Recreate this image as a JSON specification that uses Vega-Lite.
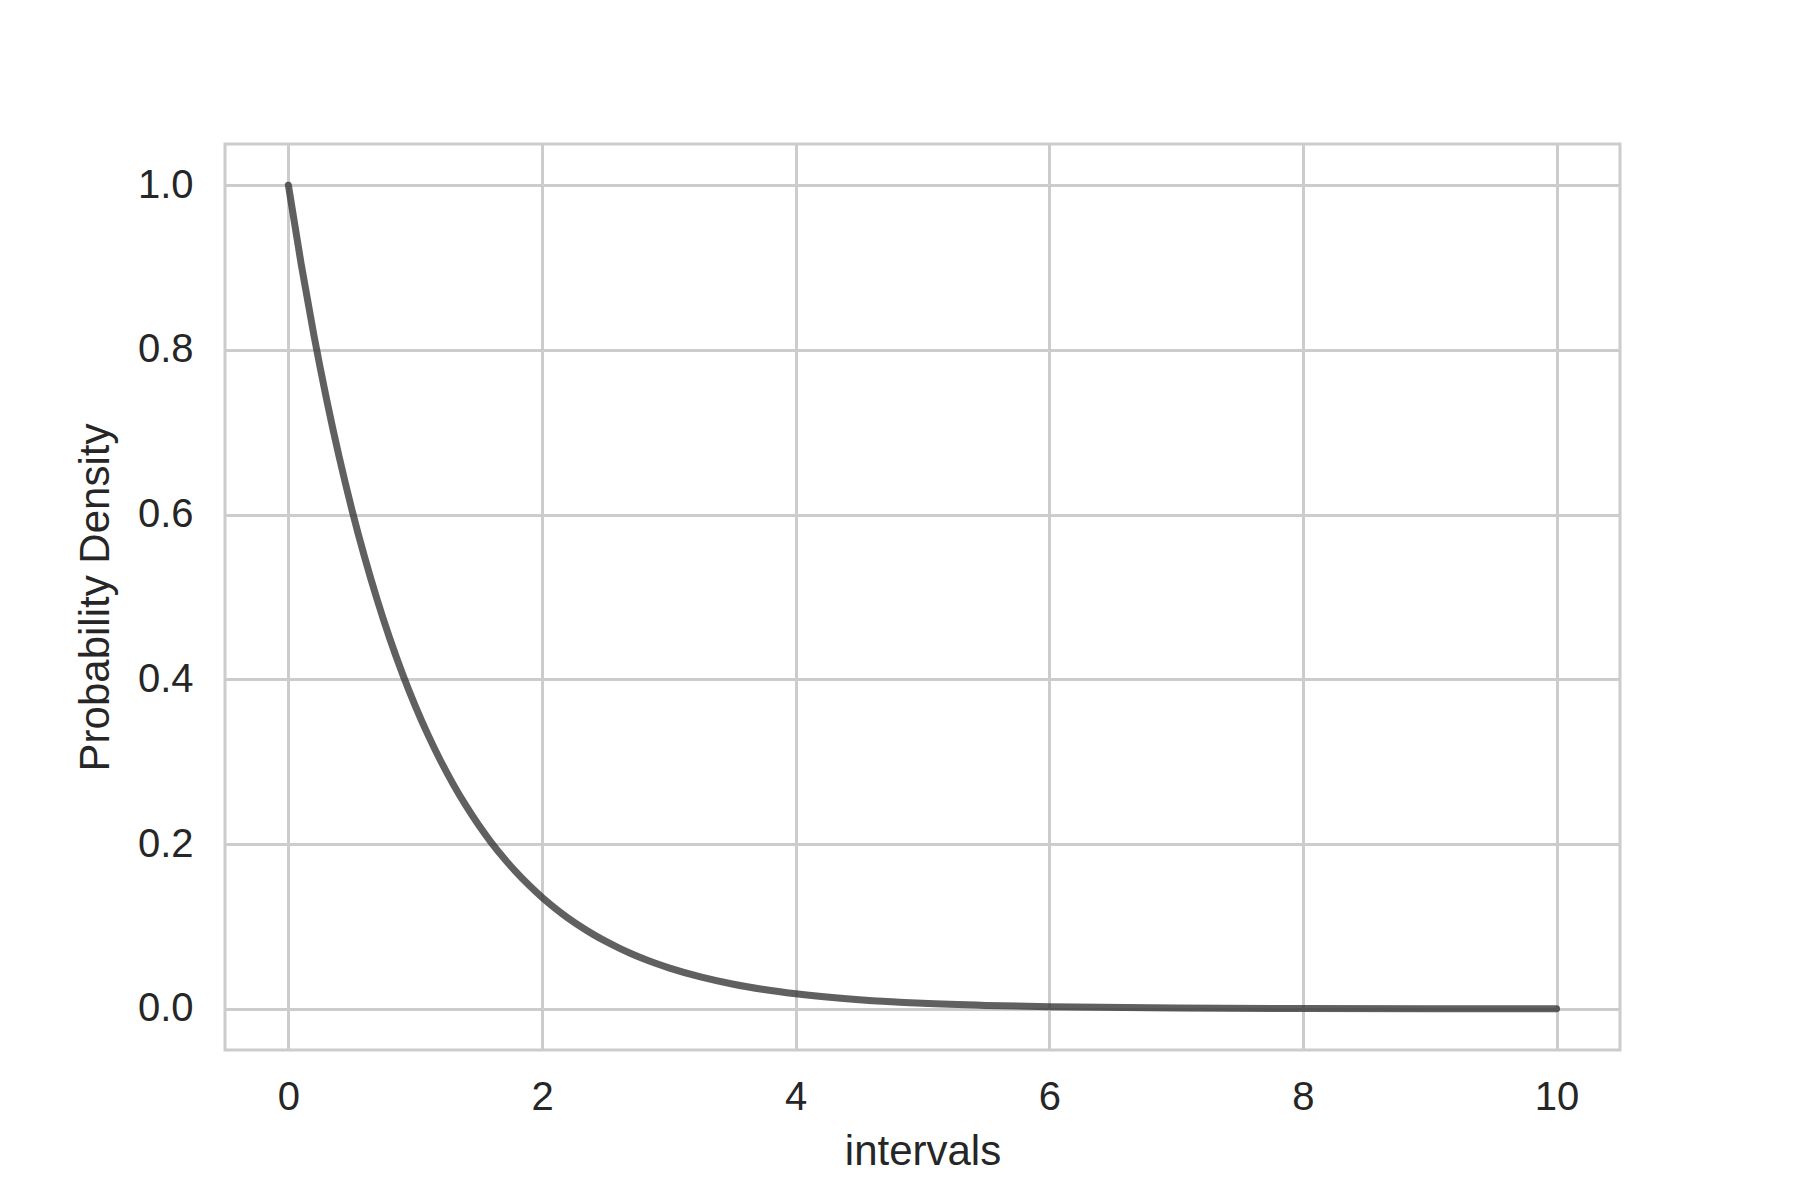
{
  "$schema": "https://vega.github.io/schema/vega-lite/v6.json",
  "width": 1395,
  "height": 906,
  "autosize": "none",
  "padding": {"left": 225, "top": 144, "right": 180, "bottom": 150},
  "background": "white",
  "config": {
    "font": "Liberation Sans",
    "view": {"stroke": "#cccccc", "strokeWidth": 3},
    "axis": {
      "domain": false,
      "ticks": false,
      "grid": true,
      "gridColor": "#cccccc",
      "gridWidth": 3,
      "labelFont": "Liberation Sans",
      "labelFontSize": 40,
      "labelColor": "#262626",
      "titleFont": "Liberation Sans",
      "titleFontSize": 42,
      "titleFontWeight": "normal",
      "titleColor": "#262626"
    }
  },
  "data": {
    "values": [
      {"intervals": 0.0, "density": 1.0},
      {"intervals": 0.1, "density": 0.9048},
      {"intervals": 0.2, "density": 0.8187},
      {"intervals": 0.3, "density": 0.7408},
      {"intervals": 0.4, "density": 0.6703},
      {"intervals": 0.5, "density": 0.6065},
      {"intervals": 0.6, "density": 0.5488},
      {"intervals": 0.7, "density": 0.4966},
      {"intervals": 0.8, "density": 0.4493},
      {"intervals": 0.9, "density": 0.4066},
      {"intervals": 1.0, "density": 0.3679},
      {"intervals": 1.1, "density": 0.3329},
      {"intervals": 1.2, "density": 0.3012},
      {"intervals": 1.3, "density": 0.2725},
      {"intervals": 1.4, "density": 0.2466},
      {"intervals": 1.5, "density": 0.2231},
      {"intervals": 1.6, "density": 0.2019},
      {"intervals": 1.7, "density": 0.1827},
      {"intervals": 1.8, "density": 0.1653},
      {"intervals": 1.9, "density": 0.1496},
      {"intervals": 2.0, "density": 0.1353},
      {"intervals": 2.1, "density": 0.1225},
      {"intervals": 2.2, "density": 0.1108},
      {"intervals": 2.3, "density": 0.1003},
      {"intervals": 2.4, "density": 0.0907},
      {"intervals": 2.5, "density": 0.0821},
      {"intervals": 2.6, "density": 0.0743},
      {"intervals": 2.7, "density": 0.0672},
      {"intervals": 2.8, "density": 0.0608},
      {"intervals": 2.9, "density": 0.055},
      {"intervals": 3.0, "density": 0.0498},
      {"intervals": 3.25, "density": 0.0388},
      {"intervals": 3.5, "density": 0.0302},
      {"intervals": 3.75, "density": 0.0235},
      {"intervals": 4.0, "density": 0.0183},
      {"intervals": 4.5, "density": 0.0111},
      {"intervals": 5.0, "density": 0.0067},
      {"intervals": 5.5, "density": 0.0041},
      {"intervals": 6.0, "density": 0.0025},
      {"intervals": 7.0, "density": 0.0009},
      {"intervals": 8.0, "density": 0.0003},
      {"intervals": 9.0, "density": 0.0001},
      {"intervals": 10.0, "density": 0.0}
    ]
  },
  "mark": {
    "type": "line",
    "interpolate": "monotone",
    "color": "#333333",
    "opacity": 0.78,
    "strokeWidth": 7,
    "strokeCap": "round",
    "strokeJoin": "round",
    "clip": true
  },
  "encoding": {
    "x": {
      "field": "intervals",
      "type": "quantitative",
      "title": "intervals",
      "scale": {"domain": [-0.5, 10.5], "nice": false, "zero": false},
      "axis": {"values": [0, 2, 4, 6, 8, 10], "labelPadding": 27, "titlePadding": 14}
    },
    "y": {
      "field": "density",
      "type": "quantitative",
      "title": "Probability Density",
      "scale": {"domain": [-0.05, 1.05], "nice": false, "zero": false},
      "axis": {"values": [0, 0.2, 0.4, 0.6, 0.8, 1.0], "format": ".1f", "labelPadding": 32, "titlePadding": 20}
    }
  }
}
